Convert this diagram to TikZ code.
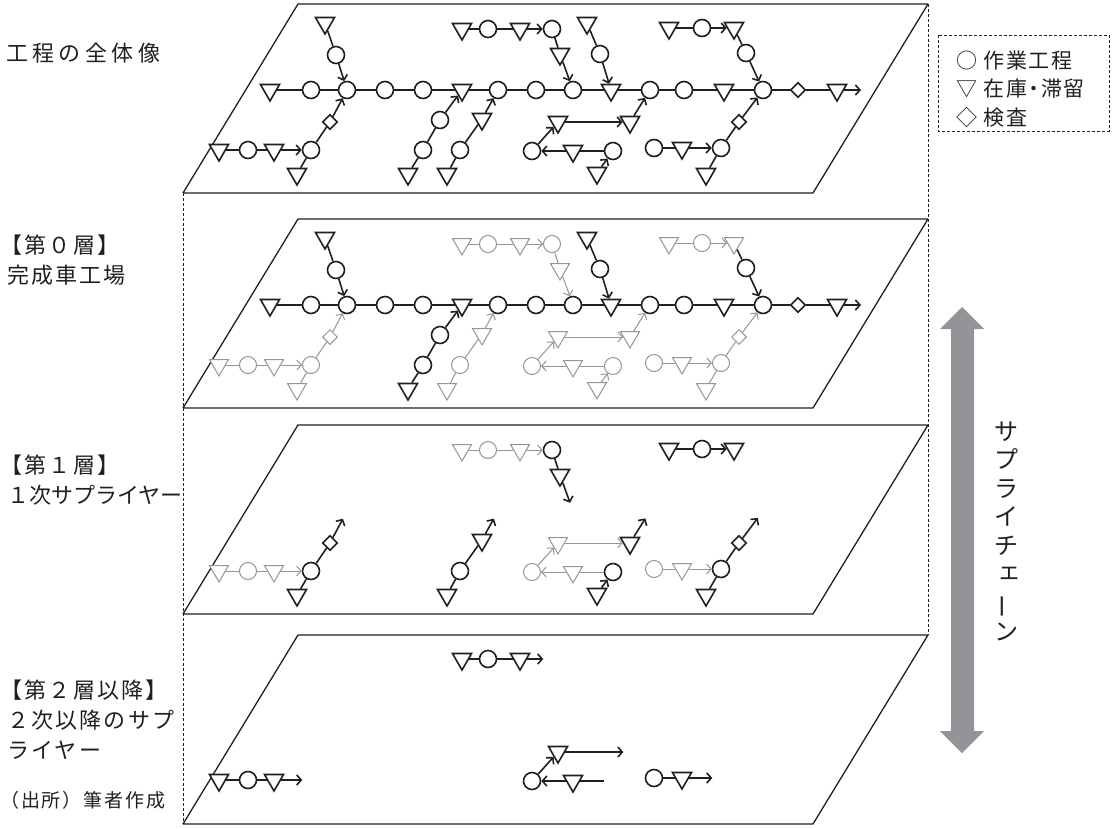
\documentclass[tikz,border=0pt]{standalone}
\usepackage{fontspec}
\usepackage{graphicx}
\setmainfont{Noto Sans CJK JP}
\newfontfamily\jp{Noto Sans CJK JP}
\newfontfamily\jpwide[LetterSpace=10]{Noto Sans CJK JP}
\newfontfamily\jpwider[LetterSpace=20]{Noto Sans CJK JP}
\newfontfamily\jplegend[LetterSpace=8,RawFeature=+palt]{Noto Sans CJK JP}
\usetikzlibrary{shapes.geometric,arrows.meta}
\definecolor{ink}{RGB}{35,31,32}
\definecolor{dimgray}{RGB}{150,150,150}
\definecolor{arrowgray}{RGB}{146,148,152}
\tikzset{
  vis/.style={draw=ink, line width=1.6pt},
  dim/.style={draw=dimgray, line width=1pt},
  hid/.style={draw=none, fill=none},
  circ/.style={circle, minimum size=17pt, inner sep=0pt, fill=white},
  tri/.style={regular polygon, regular polygon sides=3, shape border rotate=180, minimum size=22pt, inner sep=0pt, fill=white},
  dia/.style={diamond, minimum size=15pt, inner sep=0pt, fill=white},
  arr/.style={-{Straight Barb[length=4.5pt,width=10pt]}},
  plane/.style={draw=ink, line width=1.3pt, line join=bevel},
  guide/.style={draw=ink, line width=0.9pt, dash pattern=on 3pt off 2pt},
  lab/.style={font=\jpwide\fontsize{22}{30}\selectfont, text=ink, inner sep=0pt},
  layerTop/.style={gM/.style=vis,gA/.style=vis,gB1/.style=vis,gB2/.style=vis,gC/.style=vis,gD/.style=vis,gE1/.style=vis,gE2/.style=vis,gF/.style=vis,gG1/.style=vis,gG2/.style=vis,gH1/.style=vis,gH2/.style=vis,gI1/.style=vis,gI2/.style=vis},
  layerZero/.style={gM/.style=vis,gA/.style=vis,gC/.style=vis,gF/.style=vis,gI2/.style=vis,gB1/.style=dim,gB2/.style=dim,gD/.style=dim,gE1/.style=dim,gE2/.style=dim,gG1/.style=dim,gG2/.style=dim,gH1/.style=dim,gH2/.style=dim,gI1/.style=dim},
  layerOne/.style={gM/.style=hid,gA/.style=hid,gC/.style=hid,gF/.style=hid,gI2/.style=hid,gB1/.style=dim,gE1/.style=dim,gG1/.style=dim,gH1/.style=dim,gB2/.style=vis,gD/.style=vis,gE2/.style=vis,gG2/.style=vis,gH2/.style=vis,gI1/.style=vis},
  layerTwo/.style={gM/.style=hid,gA/.style=hid,gC/.style=hid,gF/.style=hid,gI2/.style=hid,gB2/.style=hid,gD/.style=hid,gE2/.style=hid,gG2/.style=hid,gH2/.style=hid,gI1/.style=hid,gB1/.style=vis,gE1/.style=vis,gG1/.style=vis,gH1/.style=vis},
}
\newcommand\fullgraph[1]{%
\node[tri,gM] (#1m1) at (270,90) {};
\node[circ,gM] (#1m2) at (311,90) {};
\node[circ,gM] (#1m3) at (347,90) {};
\node[circ,gM] (#1m4) at (385,90) {};
\node[circ,gM] (#1m5) at (423,90) {};
\node[tri,gM] (#1m6) at (462,90) {};
\node[circ,gM] (#1m7) at (498,90) {};
\node[circ,gM] (#1m8) at (536,90) {};
\node[circ,gM] (#1m9) at (573,90) {};
\node[tri,gM] (#1m10) at (611,90) {};
\node[circ,gM] (#1m11) at (650,90) {};
\node[circ,gM] (#1m12) at (684,90) {};
\node[tri,gM] (#1m13) at (724,90) {};
\node[circ,gM] (#1m14) at (763,90) {};
\node[dia,gM] (#1m15) at (798,90) {};
\node[tri,gM] (#1m16) at (837,90) {};
\coordinate (#1mend) at (861,90);
\node[tri,gA] (#1a1) at (325,23) {};
\node[circ,gA] (#1a2) at (336,55) {};
\node[tri,gB1] (#1b1) at (219,150) {};
\node[circ,gB1] (#1b2) at (248,150) {};
\node[tri,gB1] (#1b3) at (274,150) {};
\node[circ,gB2] (#1b4) at (311,150) {};
\node[dia,gB2] (#1b5) at (330,122) {};
\node[tri,gB2] (#1b6) at (297,174) {};
\node[tri,gC] (#1c1) at (408,174) {};
\node[circ,gC] (#1c2) at (423,150) {};
\node[circ,gC] (#1c3) at (440,120) {};
\node[tri,gD] (#1d1) at (447,174) {};
\node[circ,gD] (#1d2) at (460,150) {};
\node[tri,gD] (#1d3) at (482,119) {};
\node[tri,gE1] (#1e1) at (462,29) {};
\node[circ,gE1] (#1e2) at (488,29) {};
\node[tri,gE1] (#1e3) at (520,29) {};
\node[circ,gE2] (#1e4) at (552,29) {};
\node[tri,gE2] (#1e5) at (560,54) {};
\node[tri,gF] (#1f1) at (587,23) {};
\node[circ,gF] (#1f2) at (600,54) {};
\node[tri,gG1] (#1g1) at (558,122) {};
\node[tri,gG2] (#1g2) at (630,122) {};
\node[circ,gG1] (#1g3) at (532,151) {};
\node[tri,gG1] (#1g4) at (573,151) {};
\node[circ,gG2] (#1g5) at (613,151) {};
\node[tri,gG2] (#1g6) at (597,173) {};
\node[circ,gH1] (#1h1) at (654,148) {};
\node[tri,gH1] (#1h2) at (682,148) {};
\node[circ,gH2] (#1h3) at (721,148) {};
\node[dia,gH2] (#1h4) at (739,122) {};
\node[tri,gH2] (#1h5) at (706,174) {};
\node[tri,gI1] (#1i1) at (669,28) {};
\node[circ,gI1] (#1i2) at (702,28) {};
\node[tri,gI1] (#1i3) at (734,28) {};
\node[circ,gI2] (#1i4) at (746,53) {};
\draw[gM] (#1m1) -- (#1m2) -- (#1m3) -- (#1m4) -- (#1m5) -- (#1m6) -- (#1m7) -- (#1m8) -- (#1m9) -- (#1m10) -- (#1m11) -- (#1m12) -- (#1m13) -- (#1m14) -- (#1m15) -- (#1m16);
\draw[gM,arr] (#1m16) -- (#1mend);
\draw[gA] (#1a1) -- (#1a2); \draw[gA,arr] (#1a2) -- (#1m3);
\draw[gB1] (#1b1) -- (#1b2) -- (#1b3); \draw[gB1,arr] (#1b3) -- (#1b4);
\draw[gB2] (#1b4) -- (#1b5); \draw[gB2,arr] (#1b5) -- (#1m3); \draw[gB2] (#1b6) -- (#1b4);
\draw[gC] (#1c1) -- (#1c2) -- (#1c3); \draw[gC,arr] (#1c3) -- (#1m6);
\draw[gD] (#1d1) -- (#1d2) -- (#1d3); \draw[gD,arr] (#1d3) -- (#1m7);
\draw[gE1] (#1e1) -- (#1e2) -- (#1e3); \draw[gE1,arr] (#1e3) -- (#1e4);
\draw[gE2] (#1e4) -- (#1e5); \draw[gE2,arr] (#1e5) -- (#1m9);
\draw[gF] (#1f1) -- (#1f2); \draw[gF,arr] (#1f2) -- (#1m10);
\draw[gG1,arr] (#1g3) -- (#1g1); \draw[gG1,arr] (#1g1) -- (#1g2);
\draw[gG1] (#1g5) -- (#1g4); \draw[gG1,arr] (#1g4) -- (#1g3);
\draw[gG2,arr] (#1g2) -- (#1m11); \draw[gG2,arr] (#1g6) -- (#1g5);
\draw[gH1] (#1h1) -- (#1h2); \draw[gH1,arr] (#1h2) -- (#1h3);
\draw[gH2] (#1h3) -- (#1h4); \draw[gH2,arr] (#1h4) -- (#1m14); \draw[gH2] (#1h5) -- (#1h3);
\draw[gI1] (#1i1) -- (#1i2); \draw[gI1,arr] (#1i2) -- (#1i3);
\draw[gI2] (#1i3) -- (#1i4); \draw[gI2,arr] (#1i4) -- (#1m14);
}
\begin{document}
\begin{tikzpicture}[x=1pt,y=-1pt]
\useasboundingbox (0,0) rectangle (1112,828);
% guide lines of the stack
\draw[guide] (183,193) -- (183,824);
\draw[guide] (928,4) -- (928,635);
% planes
\foreach \o in {0,215,421,631}{
  \draw[plane, fill=white] (298,4+\o) -- (928,4+\o) -- (813,193+\o) -- (183,193+\o) -- cycle;
}
\begin{scope}[layerTop]
\fullgraph{top}
\end{scope}
\begin{scope}[shift={(0,215)},layerZero]
\fullgraph{zero}
\end{scope}
\begin{scope}[shift={(0,421)},layerOne]
\fullgraph{one}
\end{scope}
\begin{scope}[shift={(0,630)},layerTwo]
\fullgraph{two}
\end{scope}
% left labels
\node[lab, font=\jpwider\fontsize{22}{30}\selectfont, anchor=west] (hd) at (6,53) {工程の全体像};
\node[lab, anchor=west, align=left] (lz) at (7,260) {\hspace*{-0.3em}【第０層】\\完成車工場};
\node[lab, anchor=west, align=left] (lo) at (7,480) {\hspace*{-0.3em}【第１層】\\{\jp １次サプライヤー}};
\node[lab, anchor=west, align=left] (lt) at (7,720) {\hspace*{-0.3em}【第２層以降】\\２次以降のサプ\\ライヤー};
\node[lab, font=\jpwide\fontsize{19}{19}\selectfont, anchor=west] (src) at (0,800) {（出所）筆者作成};
% legend
\draw[guide, line width=0.8pt] (938,35) rectangle (1109,131);
\node[lab, font=\jplegend\fontsize{21}{28.5}\selectfont, anchor=west, align=left] (lg) at (956,89) {○ 作業工程\\▽ 在庫・滞留\\◇ 検査};
% supply chain arrow
\fill[arrowgray] (962,307) -- (984,329) -- (974,329) -- (974,731) -- (984,731) -- (962,753) -- (940,731) -- (951,731) -- (951,329) -- (940,329) -- cycle;
\node[font=\jp\fontsize{24}{28.6}\selectfont, text=ink, align=center, inner sep=0pt] (sc) at (1006,531) {サ\\プ\\ラ\\イ\\チ\\\hspace*{0.3em}\raisebox{0.15em}{ェ}\\\rotatebox[origin=c]{90}{ー}\\ン};
\end{tikzpicture}
\end{document}
